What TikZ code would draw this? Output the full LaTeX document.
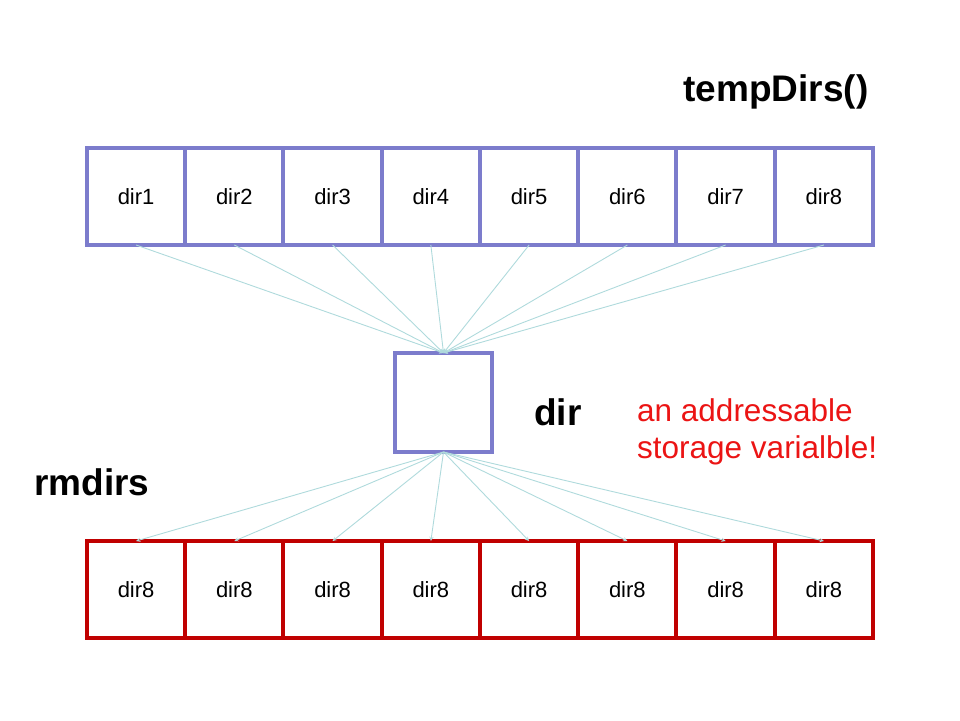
\documentclass[tikz,border=0pt]{standalone}
\usepackage{fontspec}
\setmainfont{Liberation Sans}
\usepackage{tikz}
\usetikzlibrary{arrows,positioning}
\definecolor{slot}{RGB}{124,124,204}
\definecolor{rmred}{RGB}{192,0,0}
\definecolor{note}{RGB}{235,20,20}
\definecolor{wire}{RGB}{175,218,220}

\begin{document}
\begin{tikzpicture}[
    x=1pt, y=-1pt,
    cell/.style={rectangle, draw=slot, line width=4pt, outer sep=0pt, inner sep=0pt, minimum width=98.25pt, minimum height=97pt, font=\fontsize{22}{26}\selectfont},
    rmcell/.style={cell, draw=rmred},
    title/.style={font=\fontsize{37}{42}\selectfont\bfseries, inner sep=0pt},
    wire/.style={->, >=stealth, draw=wire, line width=0.9pt}
]
    \useasboundingbox (0,0) rectangle (960,720);

    % tempDirs() array
    \node[cell] (t1) at (136.1,196.5) {dir1};
    \foreach \i [remember=\i as \prev (initially 1)] in {2,...,8}
        \node[cell, right=0pt of t\prev] (t\i) {dir\i};

    % the single dir variable
    \node[cell, minimum width=97pt, minimum height=99pt] (dir) at (443.5,402.5) {};

    % rmdirs array
    \node[rmcell] (r1) at (136.1,589.5) {dir8};
    \foreach \i [remember=\i as \prev (initially 1)] in {2,...,8}
        \node[rmcell, right=0pt of r\prev] (r\i) {dir8};

    \node[title, anchor=base] (tempdirs) at (776,101) {tempDirs()};
    \node[title, anchor=base] (dirname) at (558,425) {dir};
    \node[title, anchor=base] (rmdirs) at (92,495) {rmdirs};
    \node[anchor=north west, align=left, inner sep=0pt, text=note, font=\fontsize{31.5}{37}\selectfont] (remark) at (637,398) {an addressable\\storage varialble!};

    \foreach \i in {1,...,8} {
        \draw[wire] (t\i.south) -- (dir.north);
        \draw[wire] (dir.south) -- (r\i.north);
    }
\end{tikzpicture}
\end{document}
